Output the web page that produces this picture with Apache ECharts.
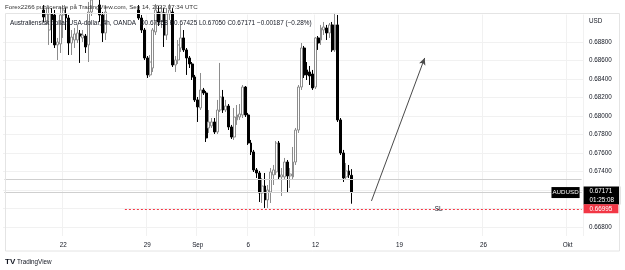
<!DOCTYPE html>
<html>
<head>
<meta charset="utf-8">
<script src="https://cdn.jsdelivr.net/npm/echarts@6/dist/echarts.min.js"></script>
<style>
  html, body { margin: 0; padding: 0; background: #fff; }
  #chart { width: 625px; height: 270px; }
</style>
</head>
<body>
<div id="chart"></div>
<script>
// trading days on the time axis, 4h bars => 6 bars per day
const days = [
  "2022-08-16", "2022-08-17", "2022-08-18", "2022-08-19",
  "2022-08-22", "2022-08-23", "2022-08-24", "2022-08-25", "2022-08-26",
  "2022-08-29", "2022-08-30", "2022-08-31", "2022-09-01", "2022-09-02",
  "2022-09-05", "2022-09-06", "2022-09-07", "2022-09-08", "2022-09-09",
  "2022-09-12", "2022-09-13", "2022-09-14", "2022-09-15", "2022-09-16",
  "2022-09-19", "2022-09-20", "2022-09-21", "2022-09-22", "2022-09-23",
  "2022-09-26", "2022-09-27", "2022-09-28", "2022-09-29", "2022-09-30",
  "2022-10-03", "2022-10-04", "2022-10-05", "2022-10-06", "2022-10-07"
];
const barHours = ["00:00", "04:00", "08:00", "12:00", "16:00", "20:00"];
const firstBar = 3;
const barCount = 207;

// time axis labels (shown at first bar of the day)
const tickLabels = {
  "2022-08-22": "22", "2022-08-29": "29", "2022-09-01": "Sep", "2022-09-06": "6",
  "2022-09-12": "12", "2022-09-19": "19", "2022-09-26": "26", "2022-10-03": "Okt"
};
const priceTicks = [0.668, 0.670, 0.672, 0.674, 0.676, 0.678, 0.680, 0.682, 0.684, 0.686, 0.688];

// AUDUSD 4h candles, first one at bar 14
const dataStart = 14;
const opens = [
  0.69150, 0.69020, 0.68933, 0.69107, 0.69096, 0.68771, 0.68782, 0.69096, 0.69107, 0.69063,
  0.68792, 0.68825, 0.68825, 0.68890, 0.68847, 0.68868, 0.68771, 0.69128, 0.69259, 0.69172,
  0.69204, 0.69096, 0.68901, 0.69128, 0.69313, 0.69421, 0.69345, 0.69454, 0.69389, 0.69313,
  0.69367, 0.69291, 0.69389, 0.69280, 0.69150, 0.69063, 0.68933, 0.68630, 0.68446, 0.68521,
  0.68912, 0.69128, 0.69020, 0.69118, 0.68879, 0.69107, 0.69128, 0.68554, 0.68608, 0.68738,
  0.68847, 0.68717, 0.68630, 0.68565, 0.68424, 0.68175, 0.68088, 0.68283, 0.68250, 0.67871,
  0.67893, 0.67936, 0.67828, 0.68066, 0.68207, 0.68066, 0.68109, 0.67882, 0.67773, 0.67958,
  0.67990, 0.68012, 0.68315, 0.68012, 0.67708, 0.67611, 0.67416, 0.67383, 0.67166, 0.67242,
  0.67091, 0.67177, 0.67362, 0.67394, 0.67708, 0.67340, 0.67340, 0.67502, 0.67351, 0.67340,
  0.67502, 0.67849, 0.68315, 0.68738, 0.68500, 0.68478, 0.68456, 0.68315, 0.68847, 0.68825,
  0.68933, 0.68955, 0.68901, 0.68988, 0.68717, 0.68988, 0.67958, 0.67600, 0.67340, 0.67405,
  0.67358
];
const closes = [
  0.69074, 0.69107, 0.69107, 0.69042, 0.68771, 0.68803, 0.69096, 0.69150, 0.69063, 0.68792,
  0.68857, 0.68890, 0.68901, 0.68868, 0.68879, 0.68749, 0.69128, 0.69259, 0.69204, 0.69237,
  0.69096, 0.68901, 0.69128, 0.69313, 0.69421, 0.69345, 0.69454, 0.69389, 0.69313, 0.69367,
  0.69291, 0.69389, 0.69280, 0.69172, 0.69063, 0.68933, 0.68630, 0.68446, 0.68586, 0.68933,
  0.69150, 0.69020, 0.69128, 0.68879, 0.69107, 0.69150, 0.68554, 0.68608, 0.68771, 0.68847,
  0.68717, 0.68630, 0.68565, 0.68424, 0.68175, 0.68099, 0.68283, 0.68250, 0.67763, 0.67936,
  0.67936, 0.67828, 0.68066, 0.68207, 0.68066, 0.68109, 0.67882, 0.67773, 0.67990, 0.68012,
  0.68023, 0.68315, 0.68012, 0.67708, 0.67611, 0.67416, 0.67383, 0.67166, 0.67242, 0.67091,
  0.67199, 0.67394, 0.67416, 0.67708, 0.67340, 0.67362, 0.67502, 0.67351, 0.67372, 0.67502,
  0.67849, 0.68315, 0.68738, 0.68446, 0.68446, 0.68435, 0.68305, 0.68847, 0.68792, 0.68955,
  0.68966, 0.68901, 0.68988, 0.68717, 0.68988, 0.67958, 0.67600, 0.67329, 0.67405, 0.67362,
  0.67171
];
const lows = [
  0.69020, 0.68988, 0.68771, 0.68792, 0.68738, 0.68608, 0.68684, 0.68847, 0.68933, 0.68662,
  0.68662, 0.68738, 0.68792, 0.68576, 0.68803, 0.68684, 0.68586, 0.69085, 0.69118, 0.69107,
  0.69020, 0.68803, 0.68825, 0.69107, 0.69280, 0.69313, 0.69313, 0.69345, 0.69259, 0.69280,
  0.69237, 0.69259, 0.69226, 0.69139, 0.69042, 0.68901, 0.68608, 0.68413, 0.68424, 0.68478,
  0.68879, 0.68977, 0.68955, 0.68749, 0.68825, 0.69042, 0.68532, 0.68478, 0.68565, 0.68695,
  0.68695, 0.68446, 0.68521, 0.68391, 0.68153, 0.67936, 0.68066, 0.68229, 0.67719, 0.67817,
  0.67871, 0.67806, 0.67806, 0.68044, 0.68034, 0.68044, 0.67849, 0.67752, 0.67741, 0.67904,
  0.67958, 0.67979, 0.67990, 0.67687, 0.67578, 0.67394, 0.67329, 0.67069, 0.67058, 0.67004,
  0.67004, 0.67058, 0.67253, 0.67362, 0.67307, 0.67134, 0.67307, 0.67166, 0.67221, 0.67318,
  0.67470, 0.67817, 0.68283, 0.68413, 0.68391, 0.68337, 0.68283, 0.68294, 0.68717, 0.68771,
  0.68879, 0.68825, 0.68847, 0.68695, 0.68695, 0.67936, 0.67578, 0.67286, 0.67307, 0.67329,
  0.67050
];
const highs = [
  0.69204, 0.69172, 0.69172, 0.69172, 0.69150, 0.68847, 0.69172, 0.69204, 0.69172, 0.69096,
  0.68933, 0.68955, 0.68988, 0.68933, 0.68933, 0.68890, 0.69237, 0.69313, 0.69345, 0.69313,
  0.69259, 0.69128, 0.69204, 0.69367, 0.69475, 0.69497, 0.69530, 0.69519, 0.69421, 0.69454,
  0.69410, 0.69421, 0.69432, 0.69324, 0.69204, 0.69096, 0.68955, 0.68651, 0.68662, 0.68955,
  0.69215, 0.69193, 0.69193, 0.69172, 0.69172, 0.69215, 0.69172, 0.68651, 0.68825, 0.68988,
  0.68933, 0.68738, 0.68651, 0.68586, 0.68446, 0.68207, 0.68467, 0.68305, 0.68272, 0.68066,
  0.67979, 0.67979, 0.68175, 0.68576, 0.68283, 0.68175, 0.68131, 0.67904, 0.68088, 0.68120,
  0.68131, 0.68337, 0.68326, 0.68034, 0.67741, 0.67633, 0.67437, 0.67405, 0.67329, 0.67383,
  0.67253, 0.67437, 0.67470, 0.67730, 0.67730, 0.67437, 0.67546, 0.67524, 0.67437, 0.67665,
  0.67871, 0.68337, 0.68792, 0.68760, 0.68586, 0.68543, 0.68500, 0.68857, 0.68868, 0.68988,
  0.69020, 0.68988, 0.69009, 0.69020, 0.69118, 0.69096, 0.67979, 0.67633, 0.67492, 0.67470,
  0.67425
];

// drawings on the chart
const lastPrice = 0.67171;
const levelLine = 0.67315;
const stopLoss = 0.66995;
const stopLossFrom = 43;
const stopLossLabelAt = 155;
const arrowFrom = [131, 0.67080];
const arrowTo = [150, 0.68630];

const font = "Liberation Sans";
const textColor = "#131722";
const lastBar = barCount - 1;

const categories = [];
days.forEach(d => barHours.forEach(h => categories.push(d + " " + h)));
const bars = categories.slice(firstBar, firstBar + barCount);

const isTick = (idx, val) => val.slice(11) === "00:00" && !!tickLabels[val.slice(0, 10)];

// horizontal segment across the bars; the line label comes from the end point
function hLine(from, value, lineStyle, endLabel) {
  return [
    { coord: [from, value], symbol: "none" },
    { coord: [lastBar, value], symbol: "none", lineStyle: lineStyle,
      label: endLabel || { show: false } }
  ];
}

const grayLine = { color: "#cfcfcf", width: 1, type: "solid" };
const redLine = { color: "#f23645", width: 1, type: [2, 2] };

const chart = echarts.init(document.getElementById("chart"));
chart.setOption({
  animation: false,
  backgroundColor: "#ffffff",
  grid: { left: 3, right: 42, top: 14.6, bottom: 34 },
  xAxis: {
    type: "category",
    data: bars,
    boundaryGap: true,
    axisLine: { show: false },
    axisTick: { show: false },
    axisLabel: {
      interval: isTick,
      formatter: v => tickLabels[v.slice(0, 10)] || "",
      color: textColor,
      fontSize: 6.3,
      fontFamily: font,
      margin: 6
    },
    splitLine: { show: true, interval: isTick, lineStyle: { color: "#f1f1f1", width: 1 } }
  },
  yAxis: {
    type: "value",
    position: "right",
    min: 0.667,
    max: 0.691,
    axisLine: { show: false },
    axisTick: { show: false, customValues: priceTicks },
    axisLabel: {
      customValues: priceTicks,
      formatter: v => v.toFixed(5),
      color: textColor,
      fontSize: 6.3,
      fontFamily: font,
      margin: 6
    },
    splitLine: { show: true, lineStyle: { color: "#f1f1f1", width: 1 } }
  },
  series: [
    {
      type: "candlestick",
      dimensions: ["bar", "open", "close", "lowest", "highest"],
      encode: { x: 0, y: [1, 2, 3, 4] },
      data: opens.map((o, k) => [k + dataStart, o, closes[k], lows[k], highs[k]]),
      barWidth: 2.4,
      itemStyle: {
        color: "#ffffff",
        color0: "#000000",
        borderColor: "#8c8c8c",
        borderColor0: "#000000",
        borderWidth: 1
      },
      markLine: {
        symbol: "none",
        silent: true,
        data: [
          hLine(0, levelLine, grayLine),
          hLine(0, lastPrice, grayLine, {
            show: true, position: "end", distance: 2,
            formatter: "0.67171\n01:25:08",
            backgroundColor: "#000000", color: "#ffffff",
            fontSize: 6.3, lineHeight: 8.5, fontFamily: font,
            padding: [1, 6, 0, 6],
            offset: [0, 3]
          }),
          hLine(0, lastPrice, grayLine, {
            show: true, position: "insideEnd", distance: 2,
            formatter: "AUDUSD",
            backgroundColor: "#000000", color: "#ffffff",
            fontSize: 6.2, fontFamily: font,
            padding: [3, 1, 2, 1]
          }),
          hLine(stopLossFrom, stopLoss, redLine, {
            show: true, position: "end", distance: 2,
            formatter: "0.66995",
            backgroundColor: "#f23645", color: "#ffffff",
            fontSize: 6.3, fontFamily: font,
            padding: [2, 6, 1, 6]
          }),
          [
            { coord: arrowFrom, symbol: "none" },
            { coord: arrowTo, symbol: "arrow", symbolSize: [5, 7],
              lineStyle: { color: "#4a4a4a", width: 1, type: "solid" },
              label: { show: false } }
          ]
        ]
      },
      markPoint: {
        silent: true,
        symbolSize: 0,
        data: [
          {
            coord: [stopLossLabelAt, stopLoss],
            label: { show: true, formatter: "SL", color: "#131722", fontSize: 6.3, fontFamily: font }
          }
        ]
      }
    }
  ],
  graphic: [
    {
      type: "rect", silent: true, z: 100,
      shape: { x: 5.5, y: 13.5, width: 614, height: 237.5 },
      style: { fill: null, stroke: "#e4e4e4", lineWidth: 1 }
    },
    {
      type: "text", left: 5, top: 4, z: 100,
      style: { text: "Forex2266 publicerade på TradingView.com, Sep 14, 2022 07:34 UTC", fontSize: 6.2, fontFamily: font, fill: "#333333" }
    },
    {
      type: "text", left: 10, top: 20, z: 100,
      style: { text: "Australiensisk dollar/USA-dollar, 4h, OANDA  O0.67358 H0.67425 L0.67050 C0.67171 \u22120.00187 (\u22120.28%)", fontSize: 6.4, fontFamily: font, fill: "#131722" }
    },
    {
      type: "text", left: 589, top: 18, z: 100,
      style: { text: "USD", fontSize: 6.3, fontFamily: font, fill: textColor }
    },
    {
      type: "text", left: 5, top: 258, z: 100,
      style: { text: "TV", fontSize: 8, fontWeight: "bold", fontFamily: font, fill: "#131722" }
    },
    {
      type: "text", left: 17, top: 259, z: 100,
      style: { text: "TradingView", fontSize: 6.3, fontFamily: font, fill: "#131722" }
    }
  ]
});
</script>
</body>
</html>
